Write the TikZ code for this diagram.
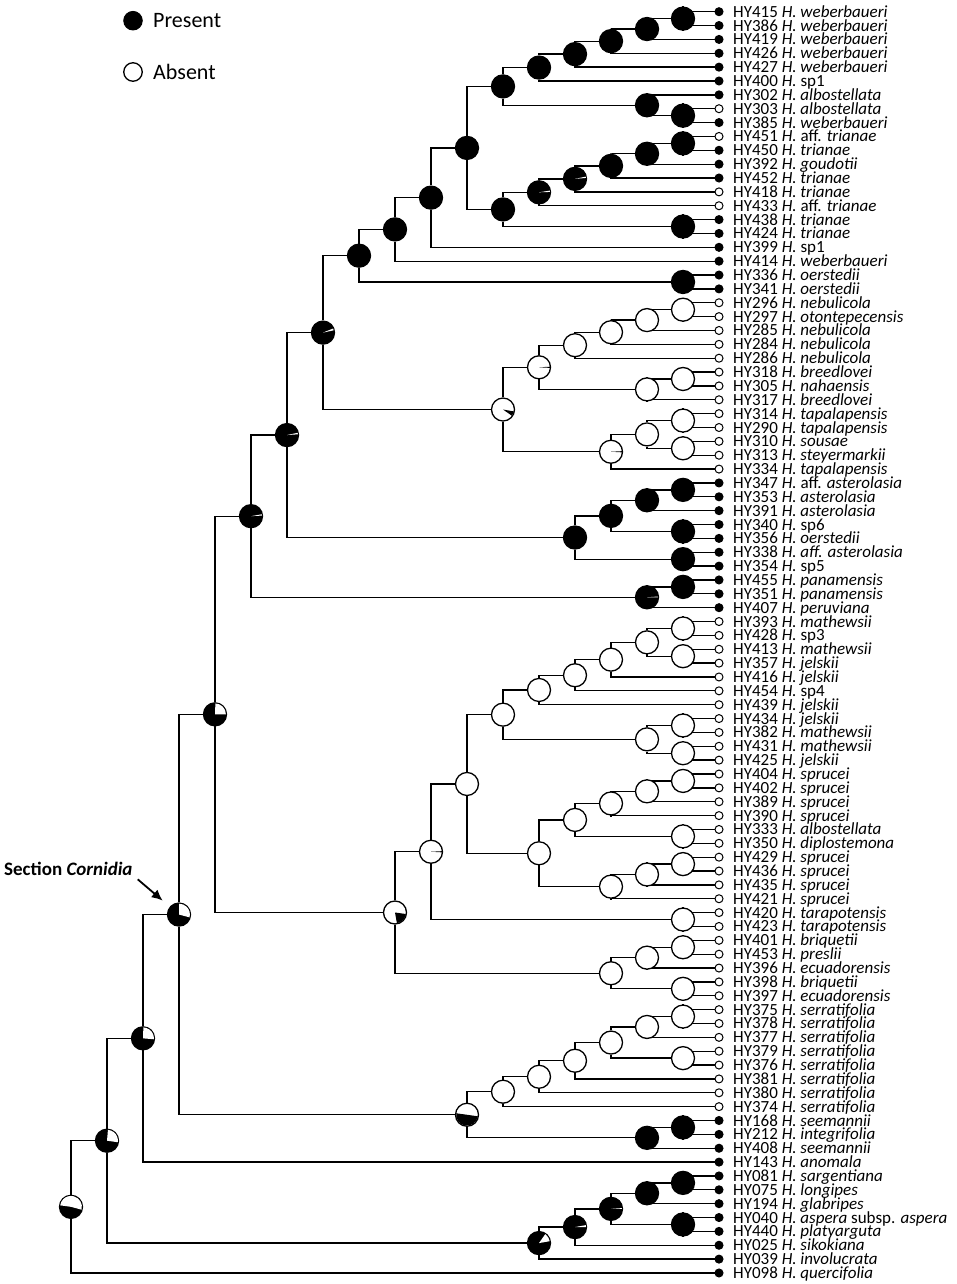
\documentclass[tikz,border=0pt]{standalone}
\usepackage{fontspec}
\setmainfont{Carlito}
\usetikzlibrary{arrows.meta,calc}
\pgfdeclarelayer{bg}
\pgfsetlayers{bg,main}
\tikzstyle{branch} = [draw, line width=1.3pt]
\tikzstyle{anc} = [circle, draw, line width=1.3pt, minimum size=23pt, inner sep=0pt]
\tikzset{leaf/.style={circle, draw, line width=1pt, minimum size=8pt, inner sep=0pt, fill=#1}}
\tikzstyle{taxon} = [anchor=base west, inner sep=0pt, text height=9pt, text depth=2pt, font=\fontsize{17}{17}\selectfont]
\tikzstyle{legtext} = [anchor=base west, inner sep=0pt, font=\fontsize{22}{24}\selectfont]
\tikzstyle{pointer} = [draw, -{Latex[length=11pt,width=10pt]}, line width=1.8pt, shorten >=9.3pt]
% ancestral node: name, level, upper child, lower child, fill
\newcommand{\clade}[5]{%
  \path let \p1=(#3), \p2=(#4) in
    node[anc, fill=#5] (#1) at ({(719-36*#2)*1pt},{(\y1+\y2)/2}) {};
  \begin{pgfonlayer}{bg}
    \path[branch] (#1) |- (#3) (#1) |- (#4);
  \end{pgfonlayer}}
% pie slice in an ancestral node: name, colour, from, to
\newcommand{\slice}[4]{%
  \fill[#2] (#1.center) -- ++(#3:10.9pt) arc[start angle=#3, end angle=#4, radius=10.9pt] -- cycle;}

\begin{document}
\begin{tikzpicture}[x=1pt, y=-1pt, declare function={rw(\k)=11.7+(\k-1)*13.86;}]
    \useasboundingbox (0,0) rectangle (957,1284);
    % Legend
    \node[leaf=black, minimum size=18.5pt] (present) at (133,20.7) {};
    \node[legtext] (presenttext) at (153,27.3) {Present};
    \node[leaf=white, line width=1.3pt, minimum size=18.5pt] (absent) at (133,72) {};
    \node[legtext] (absenttext) at (153,79.3) {Absent};
    % Place tips
    \foreach \lab/\st [count=\i] in {
        HY415 \textit{H. weberbaueri}/black, HY386 \textit{H. weberbaueri}/black,
        HY419 \textit{H. weberbaueri}/black, HY426 \textit{H. weberbaueri}/black,
        HY427 \textit{H. weberbaueri}/black, HY400 \textit{H.} sp1/black,
        HY302 \textit{H. albostellata}/black, HY303 \textit{H. albostellata}/white,
        HY385 \textit{H. weberbaueri}/black, HY451 \textit{H.} aff. \textit{trianae}/white,
        HY450 \textit{H. trianae}/black, HY392 \textit{H. goudotii}/black,
        HY452 \textit{H. trianae}/black, HY418 \textit{H. trianae}/white,
        HY433 \textit{H.} aff. \textit{trianae}/white, HY438 \textit{H. trianae}/black,
        HY424 \textit{H. trianae}/black, HY399 \textit{H.} sp1/black,
        HY414 \textit{H. weberbaueri}/black, HY336 \textit{H. oerstedii}/black,
        HY341 \textit{H. oerstedii}/black, HY296 \textit{H. nebulicola}/white,
        HY297 \textit{H. otontepecensis}/white, HY285 \textit{H. nebulicola}/white,
        HY284 \textit{H. nebulicola}/white, HY286 \textit{H. nebulicola}/white,
        HY318 \textit{H. breedlovei}/white, HY305 \textit{H. nahaensis}/white,
        HY317 \textit{H. breedlovei}/white, HY314 \textit{H. tapalapensis}/white,
        HY290 \textit{H. tapalapensis}/white, HY310 \textit{H. sousae}/white,
        HY313 \textit{H. steyermarkii}/white, HY334 \textit{H. tapalapensis}/white,
        HY347 \textit{H.} aff. \textit{asterolasia}/black, HY353 \textit{H. asterolasia}/black,
        HY391 \textit{H. asterolasia}/black, HY340 \textit{H.} sp6/black,
        HY356 \textit{H. oerstedii}/black, HY338 \textit{H. aff. asterolasia}/black,
        HY354 \textit{H.} sp5/black, HY455 \textit{H. panamensis}/black,
        HY351 \textit{H. panamensis}/black, HY407 \textit{H. peruviana}/black,
        HY393 \textit{H. mathewsii}/white, HY428 \textit{H.} sp3/white,
        HY413 \textit{H. mathewsii}/white, HY357 \textit{H. jelskii}/white,
        HY416 \textit{H. jelskii}/white, HY454 \textit{H.} sp4/white,
        HY439 \textit{H. jelskii}/white, HY434 \textit{H. jelskii}/white,
        HY382 \textit{H. mathewsii}/white, HY431 \textit{H. mathewsii}/white,
        HY425 \textit{H. jelskii}/white, HY404 \textit{H. sprucei}/white,
        HY402 \textit{H. sprucei}/white, HY389 \textit{H. sprucei}/white,
        HY390 \textit{H. sprucei}/white, HY333 \textit{H. albostellata}/white,
        HY350 \textit{H. diplostemona}/white, HY429 \textit{H. sprucei}/white,
        HY436 \textit{H. sprucei}/white, HY435 \textit{H. sprucei}/white,
        HY421 \textit{H. sprucei}/white, HY420 \textit{H. tarapotensis}/white,
        HY423 \textit{H. tarapotensis}/white, HY401 \textit{H. briquetii}/white,
        HY453 \textit{H. preslii}/white, HY396 \textit{H. ecuadorensis}/white,
        HY398 \textit{H. briquetii}/white, HY397 \textit{H. ecuadorensis}/white,
        HY375 \textit{H. serratifolia}/white, HY378 \textit{H. serratifolia}/white,
        HY377 \textit{H. serratifolia}/white, HY379 \textit{H. serratifolia}/white,
        HY376 \textit{H. serratifolia}/white, HY381 \textit{H. serratifolia}/white,
        HY380 \textit{H. serratifolia}/white, HY374 \textit{H. serratifolia}/white,
        HY168 \textit{H. seemannii}/black, HY212 \textit{H. integrifolia}/black,
        HY408 \textit{H. seemannii}/black, HY143 \textit{H. anomala}/black,
        HY081 \textit{H. sargentiana}/black, HY075 \textit{H. longipes}/black,
        HY194 \textit{H. glabripes}/black, HY040 \textit{H. aspera} subsp. \textit{aspera}/black,
        HY440 \textit{H. platyarguta}/black, HY025 \textit{H. sikokiana}/black,
        HY039 \textit{H. involucrata}/black, HY098 \textit{H. quercifolia}/black}{
        \node[leaf=\st] (l\i) at (719,{rw(\i)}) {};
        \node[taxon] (t\i) at (733,{rw(\i)+5.5}) {\lab};
    }
    % weberbaueri / trianae group
    \clade{a1}{1}{l1}{l2}{black}
    \clade{a2}{2}{a1}{l3}{black}
    \clade{a3}{3}{a2}{l4}{black}
    \clade{a4}{4}{a3}{l5}{black}
    \clade{a5}{5}{a4}{l6}{black}
    \clade{b1}{1}{l8}{l9}{black}
    \clade{b2}{2}{l7}{b1}{black}
    \clade{a6}{6}{a5}{b2}{black}
    \clade{c1}{1}{l10}{l11}{black}
    \clade{c2}{2}{c1}{l12}{black}
    \clade{c3}{3}{c2}{l13}{black}
    \clade{c4}{4}{c3}{l14}{black} \slice{c4}{white}{5}{12}
    \clade{c5}{5}{c4}{l15}{black} \slice{c5}{white}{2}{9}
    \clade{d1}{1}{l16}{l17}{black}
    \clade{c6}{6}{c5}{d1}{black}
    \clade{e7}{7}{a6}{c6}{black}
    \clade{e8}{8}{e7}{l18}{black}
    \clade{e9}{9}{e8}{l19}{black}
    \clade{f1}{1}{l20}{l21}{black}
    \clade{e10}{10}{e9}{f1}{black}
    % Mexican group
    \clade{n1}{1}{l22}{l23}{white}
    \clade{n2}{2}{n1}{l24}{white}
    \clade{n3}{3}{n2}{l25}{white}
    \clade{n4}{4}{n3}{l26}{white}
    \clade{n5}{1}{l27}{l28}{white}
    \clade{n6}{2}{n5}{l29}{white}
    \clade{n7}{5}{n4}{n6}{white} \slice{n7}{black}{-3}{3}
    \clade{n8}{1}{l30}{l31}{white}
    \clade{n9}{1}{l32}{l33}{white}
    \clade{n10}{2}{n8}{n9}{white}
    \clade{n11}{3}{n10}{l34}{white} \slice{n11}{black}{-3}{3}
    \clade{n12}{6}{n7}{n11}{white} \slice{n12}{black}{-35}{-10}
    \clade{e11}{11}{e10}{n12}{black} \slice{e11}{white}{12}{22}
    % asterolasia group
    \clade{s1}{1}{l35}{l36}{black}
    \clade{s2}{2}{s1}{l37}{black}
    \clade{s3}{1}{l38}{l39}{black}
    \clade{s4}{3}{s2}{s3}{black}
    \clade{s5}{1}{l40}{l41}{black}
    \clade{s6}{4}{s4}{s5}{black}
    \clade{e12}{12}{e11}{s6}{black} \slice{e12}{white}{4}{12}
    \clade{p1}{1}{l42}{l43}{black}
    \clade{p2}{2}{p1}{l44}{black} \slice{p2}{white}{0}{4}
    \clade{e13}{13}{e12}{p2}{black} \slice{e13}{white}{3}{10}
    % sprucei / jelskii group
    \clade{g1}{1}{l45}{l46}{white}
    \clade{g2}{1}{l47}{l48}{white}
    \clade{g3}{2}{g1}{g2}{white}
    \clade{g4}{3}{g3}{l49}{white}
    \clade{g5}{4}{g4}{l50}{white}
    \clade{g6}{5}{g5}{l51}{white}
    \clade{g7}{1}{l52}{l53}{white}
    \clade{g8}{1}{l54}{l55}{white}
    \clade{g9}{2}{g7}{g8}{white}
    \clade{g10}{6}{g6}{g9}{white}
    \clade{k1}{1}{l56}{l57}{white}
    \clade{k2}{2}{k1}{l58}{white}
    \clade{k3}{3}{k2}{l59}{white}
    \clade{k4}{1}{l60}{l61}{white}
    \clade{k5}{4}{k3}{k4}{white}
    \clade{k6}{1}{l62}{l63}{white}
    \clade{k7}{2}{k6}{l64}{white}
    \clade{k8}{3}{k7}{l65}{white}
    \clade{k9}{5}{k5}{k8}{white}
    \clade{g11}{7}{g10}{k9}{white}
    \clade{t1}{1}{l66}{l67}{white}
    \clade{g12}{8}{g11}{t1}{white} \slice{g12}{black}{-3}{3}
    \clade{q1}{1}{l68}{l69}{white}
    \clade{q2}{2}{q1}{l70}{white}
    \clade{q3}{1}{l71}{l72}{white}
    \clade{q4}{3}{q2}{q3}{white}
    \clade{g13}{9}{g12}{q4}{white} \slice{g13}{black}{-80}{-8}
    \clade{e14}{14}{e13}{g13}{black} \slice{e14}{white}{0}{88}
    % serratifolia group
    \clade{v1}{1}{l73}{l74}{white}
    \clade{v2}{2}{v1}{l75}{white}
    \clade{v3}{1}{l76}{l77}{white}
    \clade{v4}{3}{v2}{v3}{white}
    \clade{v5}{4}{v4}{l78}{white}
    \clade{v6}{5}{v5}{l79}{white}
    \clade{v7}{6}{v6}{l80}{white}
    \clade{w1}{1}{l81}{l82}{black}
    \clade{w2}{2}{w1}{l83}{black}
    \clade{v8}{7}{v7}{w2}{white} \slice{v8}{black}{172}{352}
    \clade{e15}{15}{e14}{v8}{black} \slice{e15}{white}{-15}{90}
    \clade{e16}{16}{e15}{l84}{black} \slice{e16}{white}{-5}{88}
    % outgroups
    \clade{x1}{1}{l85}{l86}{black}
    \clade{x2}{2}{x1}{l87}{black}
    \clade{x3}{1}{l88}{l89}{black}
    \clade{x4}{3}{x2}{x3}{black} \slice{x4}{white}{0}{4}
    \clade{x5}{4}{x4}{l90}{black} \slice{x5}{white}{0}{10}
    \clade{x6}{5}{x5}{l91}{black} \slice{x6}{white}{10}{55}
    \clade{e17}{17}{e16}{x6}{black} \slice{e17}{white}{-8}{85}
    \clade{root}{18}{e17}{l92}{black} \slice{root}{white}{-15}{172}
    % the section label
    \node[anchor=base west, inner sep=0pt, font=\bfseries\fontsize{19}{21}\selectfont] (section) at (4,875.7) {Section \textit{Cornidia}};
    \coordinate (secstart) at (137.7,879.3);
    \path[pointer] (secstart) -- (e15);
\end{tikzpicture}
\end{document}
